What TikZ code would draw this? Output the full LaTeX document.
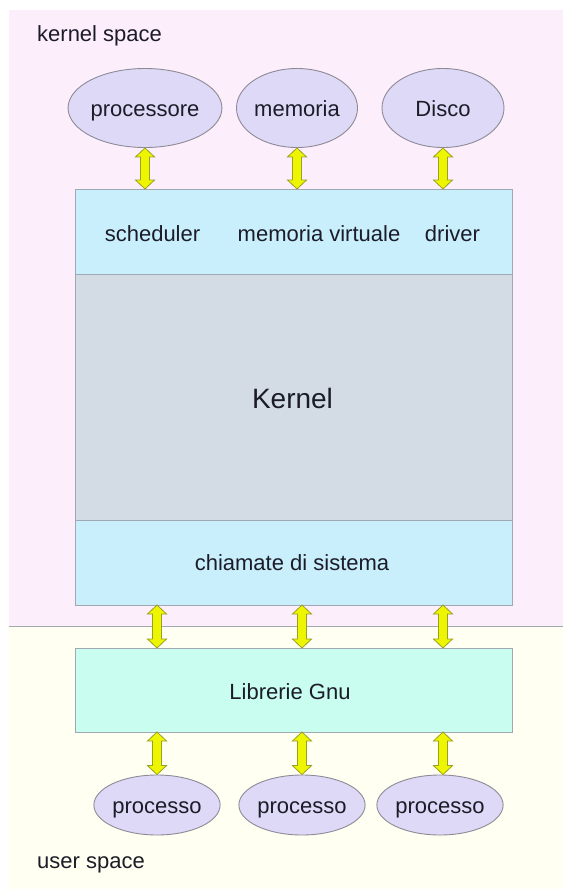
\documentclass[tikz,border=0pt]{standalone}
\usepackage{fontspec}
\setmainfont{Liberation Sans}
\usetikzlibrary{calc,shapes.geometric}
\definecolor{kpink}{HTML}{FDEEFC}
\definecolor{ucream}{HTML}{FFFFF2}
\definecolor{ellfill}{HTML}{DDD9F6}
\definecolor{ellline}{HTML}{8E8A96}
\definecolor{cyanbox}{HTML}{C9EFFC}
\definecolor{graybox}{HTML}{D3DCE5}
\definecolor{libbox}{HTML}{C8FDF0}
\definecolor{boxline}{HTML}{A0A8B2}
\definecolor{txt}{HTML}{1C1C28}
\definecolor{arrfill}{HTML}{EEF500}
\definecolor{arrline}{HTML}{9AA020}
\tikzset{
  xcent/.style={text height=#1, text depth=0pt},
  lbl/.style={font=\fontsize{22}{26}\selectfont, text=txt, inner sep=0pt, xcent=15pt},
  ell/.style={ellipse, draw=ellline, fill=ellfill, line width=0.9pt, inner sep=0pt, font=\fontsize{22}{26}\selectfont, text=txt, xcent=16pt},
  boxsty/.style={draw=boxline, line width=0.9pt},
  arrsty/.style={draw=arrline, fill=arrfill, line width=0.8pt, line join=miter},
}
\newcommand\vdarrow[2]{%
  \path (#1) coordinate (at) (#2) coordinate (ab);
  \draw[arrsty] (at) -- ($(at)+(9.5,9)$) -- ($(at)+(4.5,9)$) -- ($(ab)+(4.5,-9)$) -- ($(ab)+(9.5,-9)$)
    -- (ab) -- ($(ab)+(-9.5,-9)$) -- ($(ab)+(-4.5,-9)$) -- ($(at)+(-4.5,9)$) -- ($(at)+(-9.5,9)$) -- cycle;
}
\begin{document}
\begin{tikzpicture}[x=1pt,y=-1pt]
\useasboundingbox (0,0) rectangle (563,889);
\fill[white] (0,0) rectangle (563,889);
\fill[kpink] (9,10) rectangle (563,626);
\fill[ucream] (9,626) rectangle (563,889);
\draw[boxline, line width=0.9pt] (9,626) -- (563,626);

\node[lbl, anchor=west] (ks) at (37,34) {kernel space};
\node[lbl, anchor=west] (us) at (37,861) {user space};

% top ellipses
\node[ell, minimum width=123pt, minimum height=79pt] (e1) at (145,108) {processore};
\node[ell, minimum width=115pt, minimum height=79pt] (e2) at (297,108) {memoria};
\node[ell, minimum width=122pt, minimum height=79pt] (e3) at (443,108) {Disco};

% kernel boxes
\draw[boxsty, fill=cyanbox] (75,189) rectangle (512,274);
\draw[boxsty, fill=graybox] (75,274) rectangle (512,520);
\draw[boxsty, fill=cyanbox] (75,520) rectangle (512,605);
\coordinate (topN) at (293,189);
\coordinate (sysS) at (293,605);
\node[lbl] (sch) at (152.5,234) {scheduler};
\node[lbl] (mv) at (319,234) {memoria virtuale};
\node[lbl] (drv) at (452.5,234) {driver};
\node[font=\fontsize{28}{32}\selectfont, text=txt, inner sep=0pt, xcent=18pt] (kern) at (292.5,399) {Kernel};
\node[lbl] (sys) at (292,563) {chiamate di sistema};

% libraries
\draw[boxsty, fill=libbox] (75,648) rectangle (512,732);
\coordinate (libN) at (293,648);
\coordinate (libS) at (293,732);
\node[lbl] (lib) at (290,692) {Librerie Gnu};

% bottom ellipses
\node[ell, minimum width=124pt, minimum height=60pt] (p1) at (157,805) {processo};
\node[ell, minimum width=123pt, minimum height=60pt] (p2) at (302,805) {processo};
\node[ell, minimum width=124pt, minimum height=60pt] (p3) at (440,805) {processo};

% arrows
\vdarrow{e1.south}{e1.south |- topN}
\vdarrow{e2.south}{e2.south |- topN}
\vdarrow{e3.south}{e3.south |- topN}
\vdarrow{p1.north |- sysS}{p1.north |- libN}
\vdarrow{p2.north |- sysS}{p2.north |- libN}
\vdarrow{$(p3.north |- sysS)+(3,0)$}{$(p3.north |- libN)+(3,0)$}
\vdarrow{p1.north |- libS}{p1.north}
\vdarrow{p2.north |- libS}{p2.north}
\vdarrow{$(p3.north |- libS)+(3,0)$}{$(p3.north)+(3,0)$}
\end{tikzpicture}
\end{document}
